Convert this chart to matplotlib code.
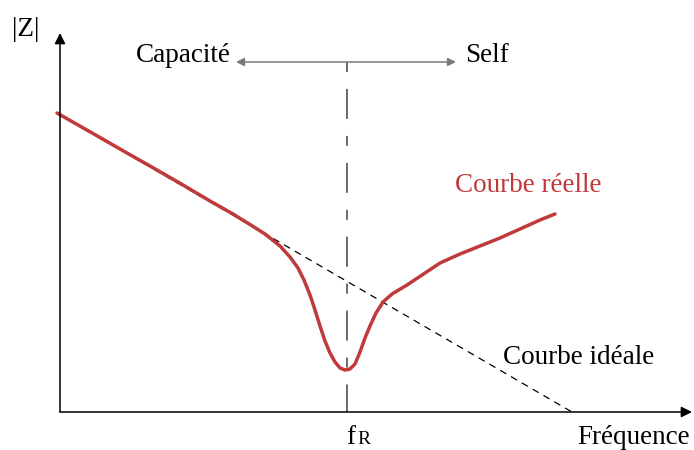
import numpy as np
import matplotlib.pyplot as plt

plt.rcParams['font.family'] = ['Liberation Serif', 'DejaVu Serif']
plt.rcParams['lines.scale_dashes'] = False

# courbe réelle (coordonnées)
xr = [57, 100, 127, 150, 183, 210, 233, 250, 265, 280, 290, 298, 304, 310, 315,
      320, 325, 330, 335, 340, 345, 350, 355, 360, 365, 370, 376, 383, 392,
      407, 425, 440, 460, 480, 500, 520, 540, 555]
yr = [113, 137.5, 153, 166, 185, 201, 214, 224.5, 234, 246, 257, 268, 280, 295, 310,
      326, 341, 353, 362, 368, 370, 369, 364, 352, 338, 326, 313, 302, 294,
      285, 273, 263, 254, 246, 238, 229, 220, 214]

# courbe idéale (droite)
xi = [57, 572]
yi = [113, 412]

fR = 347
origine = (60, 412)

fig = plt.figure(figsize=(6.94, 4.5), dpi=100)
ax = fig.add_axes([0, 0, 1, 1])
ax.set_xlim(0, 694)
ax.set_ylim(450, 0)
ax.axis('off')

# axes
ax.annotate('', xy=(origine[0], 33), xytext=(origine[0], origine[1]),
            arrowprops=dict(arrowstyle='-|>', color='black', lw=1.1,
                            mutation_scale=16, shrinkA=0, shrinkB=0))
ax.annotate('', xy=(692, origine[1]), xytext=(origine[0], origine[1]),
            arrowprops=dict(arrowstyle='-|>', color='black', lw=1.1,
                            mutation_scale=16, shrinkA=0, shrinkB=0))

# droite idéale
ax.plot(xi, yi, color='black', lw=0.9, dashes=(5, 4))

# verticale fR
ax.plot([fR, fR], [62, origine[1]], color='#6a6a6a', lw=1.4,
        dashes=(7.2, 12.2, 21.6, 12.2))

# double flèche Capacité / Self
ax.annotate('', xy=(236, 62), xytext=(456, 62),
            arrowprops=dict(arrowstyle='<|-|>', color='#7a7a7a', lw=1.1,
                            mutation_scale=12, shrinkA=0, shrinkB=0))

# courbe réelle
ax.plot(xr, yr, color='#c0393b', lw=2.5, solid_capstyle='round')

fs = 19.5
ax.text(12, 30, '|Z|', fontsize=fs, ha='left', va='center')
ax.text(231, 55, 'Capacité', fontsize=fs, ha='right', va='center')
ax.text(465, 55, 'Self', fontsize=fs, ha='left', va='center')
ax.text(455, 185, 'Courbe réelle', fontsize=fs, ha='left', va='center', color='#c0393b')
ax.text(503, 357, 'Courbe idéale', fontsize=fs, ha='left', va='center')
ax.text(346, 438, 'f', fontsize=fs, ha='left', va='center')
ax.text(357, 440, 'R', fontsize=fs * 0.72, ha='left', va='center')
ax.text(690, 438, 'Fréquence', fontsize=fs, ha='right', va='center')

fig.savefig('out.png', dpi=100)
